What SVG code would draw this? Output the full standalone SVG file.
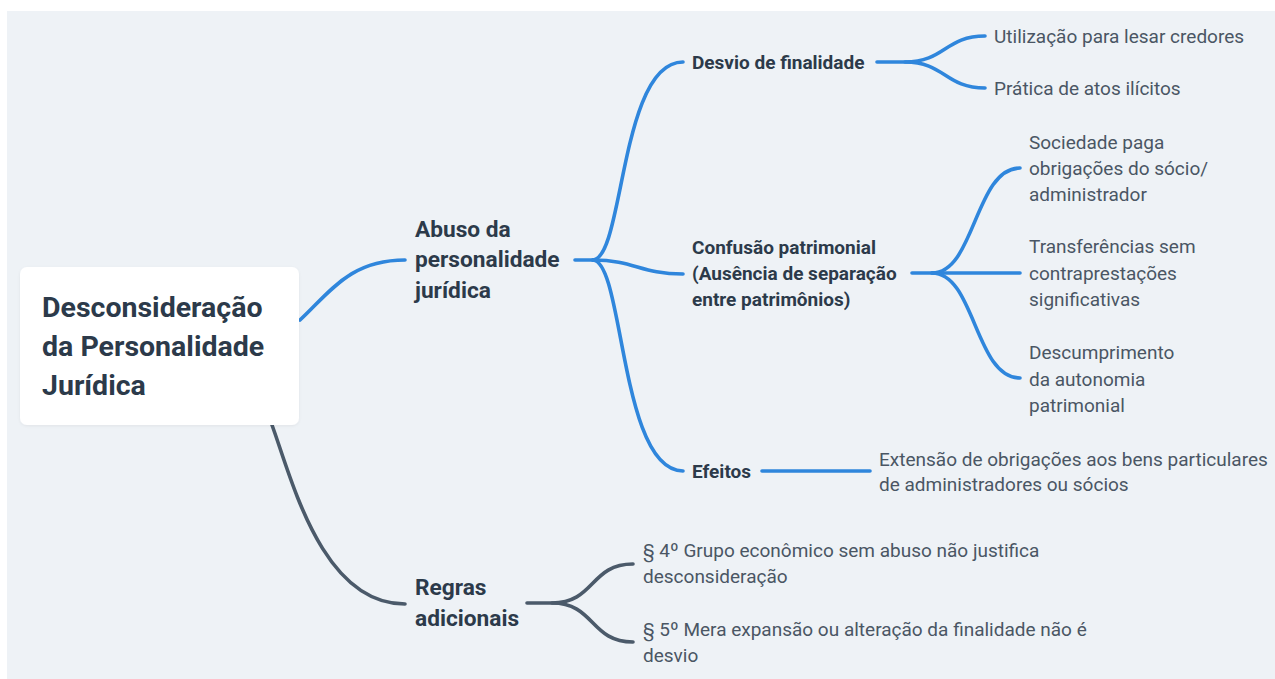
<svg xmlns="http://www.w3.org/2000/svg" width="1275" height="679" viewBox="0 0 1275 679">
<defs>
<style>
.bg{fill:#eef2f6}
.blue{fill:none;stroke:#2f86dc;stroke-width:3.6;stroke-linecap:round}
.gray{fill:none;stroke:#4b5a6a;stroke-width:3.6;stroke-linecap:round}
.root{font-family:Roboto,"Liberation Sans",sans-serif;font-weight:700;font-size:28.5px;fill:#2c3a4a}
.l1{font-family:Roboto,"Liberation Sans",sans-serif;font-weight:700;font-size:22.7px;fill:#2c3a4a}
.l2{font-family:Roboto,"Liberation Sans",sans-serif;font-weight:700;font-size:19px;fill:#2c3a4a}
.l3{font-family:Roboto,"Liberation Sans",sans-serif;font-weight:400;font-size:19px;fill:#4a5664}
</style>
<filter id="sh" x="-10%" y="-10%" width="120%" height="130%">
<feDropShadow dx="0" dy="1" stdDeviation="1.5" flood-color="#000" flood-opacity="0.06"/>
</filter>
</defs>
<rect x="0" y="0" width="1275" height="679" fill="#ffffff"/>
<rect class="bg" x="7" y="11" width="1268" height="668"/>
<g id="connectors">
<path class="blue" d="M300,320 C330,292 350,260 405,260"/>
<path class="gray" d="M272,425 C292,480 322,604 405,604"/>
<path class="blue" d="M575,260 L593,260"/>
<path class="blue" d="M593,260 C624,258 620,62 683,62"/>
<path class="blue" d="M593,260 C635,260 640,274 683,274"/>
<path class="blue" d="M593,260 C624,262 620,471 683,471"/>
<path class="blue" d="M877,62 L905,62 C945,62 945,36 985,36"/>
<path class="blue" d="M905,62 C945,62 945,88 985,88"/>
<path class="blue" d="M912,273 L932,273 C975,273 975,168 1020,168"/>
<path class="blue" d="M932,273 L1020,273"/>
<path class="blue" d="M932,273 C975,273 975,378 1020,378"/>
<path class="blue" d="M762,471 L870,471"/>
<path class="gray" d="M527,603 L552,603 C595,603 590,564 633,564"/>
<path class="gray" d="M552,603 C595,603 590,642 633,642"/>
</g>
<g id="root">
<rect x="20" y="267" width="279" height="158" rx="7" fill="#ffffff" filter="url(#sh)"/>
<text class="root" x="42"><tspan x="42" y="317">Desconsideração</tspan><tspan x="42" y="356">da Personalidade</tspan><tspan x="42" y="395">Jurídica</tspan></text>
</g>
<g id="abuso">
<text class="l1"><tspan x="415" y="237">Abuso da</tspan><tspan x="415" y="267">personalidade</tspan><tspan x="415" y="298">jurídica</tspan></text>
</g>
<g id="regras">
<text class="l1"><tspan x="415" y="595">Regras</tspan><tspan x="415" y="626">adicionais</tspan></text>
</g>
<g id="desvio">
<text class="l2" x="692" y="69">Desvio de finalidade</text>
</g>
<g id="confusao">
<text class="l2"><tspan x="692" y="254">Confusão patrimonial</tspan><tspan x="692" y="280">(Ausência de separação</tspan><tspan x="692" y="306">entre patrimônios)</tspan></text>
</g>
<g id="efeitos">
<text class="l2" x="692" y="478">Efeitos</text>
</g>
<g id="utilizacao">
<text class="l3" x="994" y="43">Utilização para lesar credores</text>
</g>
<g id="pratica">
<text class="l3" x="994" y="95">Prática de atos ilícitos</text>
</g>
<g id="sociedade">
<text class="l3"><tspan x="1029" y="149">Sociedade paga</tspan><tspan x="1029" y="175">obrigações do sócio/</tspan><tspan x="1029" y="201">administrador</tspan></text>
</g>
<g id="transferencias">
<text class="l3"><tspan x="1029" y="253">Transferências sem</tspan><tspan x="1029" y="280">contraprestações</tspan><tspan x="1029" y="306">significativas</tspan></text>
</g>
<g id="descumprimento">
<text class="l3"><tspan x="1029" y="359">Descumprimento</tspan><tspan x="1029" y="386">da autonomia</tspan><tspan x="1029" y="412">patrimonial</tspan></text>
</g>
<g id="extensao">
<text class="l3"><tspan x="879" y="466">Extensão de obrigações aos bens particulares</tspan><tspan x="879" y="491">de administradores ou sócios</tspan></text>
</g>
<g id="par4">
<text class="l3"><tspan x="643" y="557">§ 4º Grupo econômico sem abuso não justifica</tspan><tspan x="643" y="583">desconsideração</tspan></text>
</g>
<g id="par5">
<text class="l3"><tspan x="643" y="636">§ 5º Mera expansão ou alteração da finalidade não é</tspan><tspan x="643" y="662">desvio</tspan></text>
</g>
</svg>
